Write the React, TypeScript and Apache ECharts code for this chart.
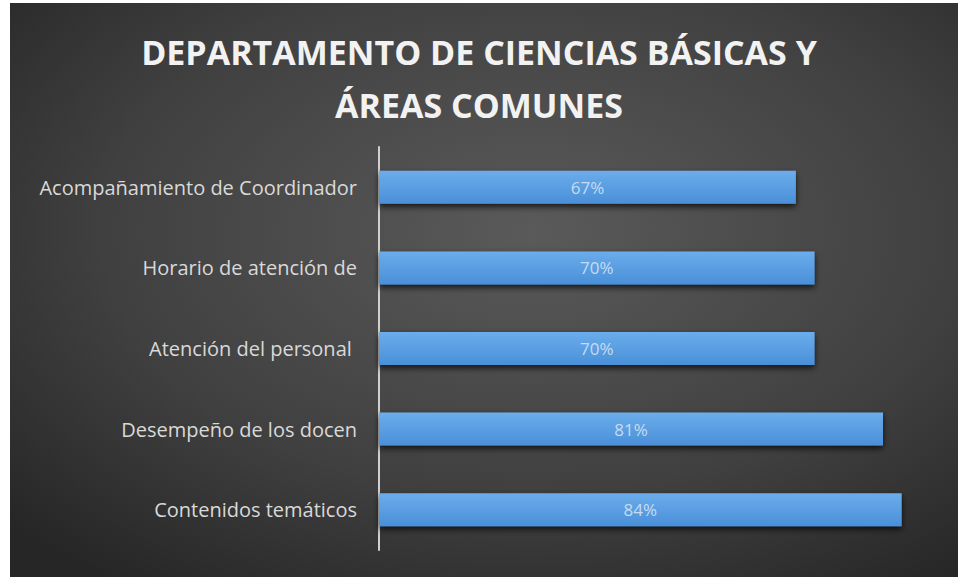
import React, { useEffect, useRef } from "react";
import * as echarts from "echarts";

const categories = [
  "Contenidos temáticos",
  "Desempeño de los docen",
  "Atención del personal ",
  "Horario de atención de",
  "Acompañamiento de Coordinador",
];
const values = [84, 81, 70, 70, 67];
const titleLines = ["DEPARTAMENTO DE CIENCIAS BÁSICAS Y", "ÁREAS COMUNES"];

export default function App() {
  const ref = useRef<HTMLDivElement>(null);
  useEffect(() => {
    if (!ref.current) return;
    const chart = echarts.init(ref.current, null, { renderer: "svg" });
    const titleStyle = {
      fill: "#f2f2f2",
      fontFamily: "Open Sans",
      fontWeight: "bold",
      fontSize: 34,
      textAlign: "center",
      textVerticalAlign: "middle",
      shadowColor: "rgba(0,0,0,0.8)",
      shadowBlur: 5,
      shadowOffsetX: 1,
      shadowOffsetY: 2,
    };
    chart.setOption({
      animation: false,
      backgroundColor: "#ffffff",
      graphic: [
        {
          type: "rect",
          z: -10,
          silent: true,
          shape: { x: 10, y: 3, width: 948, height: 574 },
          style: {
            fill: new echarts.graphic.RadialGradient(0.55, 0.4, 0.75, [
              { offset: 0, color: "#5a5a5a" },
              { offset: 0.6, color: "#404040" },
              { offset: 1, color: "#262626" },
            ]),
          },
        },
        {
          type: "text",
          x: 479,
          y: 52,
          style: { ...titleStyle, text: titleLines[0] },
        },
        {
          type: "text",
          x: 479,
          y: 105,
          style: { ...titleStyle, text: titleLines[1] },
        },
      ],
      grid: { left: 379, top: 147, width: 560, height: 403, containLabel: false },
      xAxis: {
        type: "value",
        min: 0,
        max: 90,
        show: false,
      },
      yAxis: {
        type: "category",
        data: categories,
        axisLine: { show: true, lineStyle: { color: "#d0d0d0", width: 2 } },
        axisTick: { show: false },
        axisLabel: {
          color: "#d9d9d9",
          fontFamily: "Open Sans",
          fontSize: 20,
          margin: 22,
        },
      },
      series: [
        {
          type: "bar",
          data: values,
          barWidth: 33,
          itemStyle: {
            color: new echarts.graphic.LinearGradient(0, 0, 0, 1, [
              { offset: 0, color: "#6badec" },
              { offset: 1, color: "#4a8fd8" },
            ]),
            shadowColor: "rgba(0,0,0,0.75)",
            shadowBlur: 6,
            shadowOffsetY: 3,
          },
          label: {
            show: true,
            position: "inside",
            formatter: "{c}%",
            color: "#c5dcf2",
            fontFamily: "Open Sans",
            fontSize: 17,
          },
        },
      ],
    });
    return () => chart.dispose();
  }, []);
  return (
    <div
      ref={ref}
      style={{ position: "absolute", left: 0, top: 0, width: 958, height: 577 }}
    />
  );
}
